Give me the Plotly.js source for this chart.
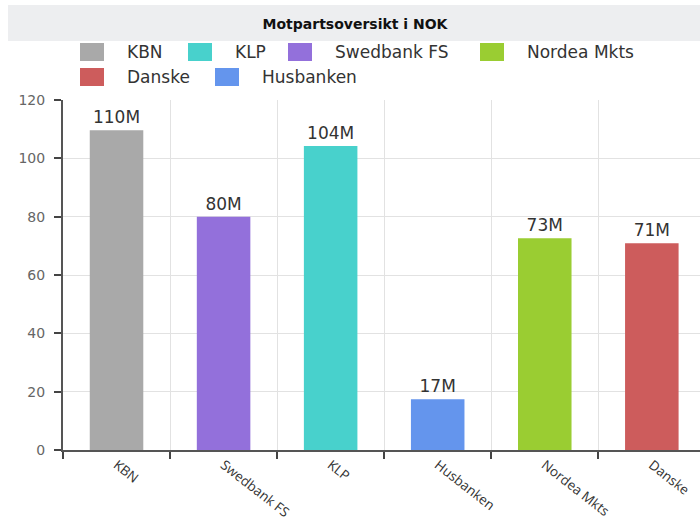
<!DOCTYPE html>
<html>
<head>
<meta charset="utf-8">
<script src="https://cdn.plot.ly/plotly-3.0.1.min.js"></script>
<style>html,body{margin:0;padding:0;background:#fff;}#chart{width:700px;height:522px;}</style>
</head>
<body>
<div id="chart"></div>
<script>
// ---- data ----
const banks = ['KBN', 'Swedbank FS', 'KLP', 'Husbanken', 'Nordea Mkts', 'Danske'];
const exposure = [109.6, 80, 104.2, 17.4, 72.6, 70.9];
const legendNames = ['KBN', 'KLP', 'Swedbank FS', 'Nordea Mkts', 'Danske', 'Husbanken'];
const yTicks = [0, 20, 40, 60, 80, 100, 120];

// ---- style ----
const colorOf = {
  'KBN': '#A9A9A9', 'KLP': '#48D1CC', 'Swedbank FS': '#9370DB',
  'Nordea Mkts': '#9ACD32', 'Danske': '#CD5C5C', 'Husbanken': '#6495ED'
};
const W = 700, H = 522;
const M = {l: 63, r: 0, t: 100, b: 72};
const PW = W - M.l - M.r, PH = H - M.t - M.b;
const px2x = p => (p - M.l) / PW;
const px2y = p => (H - M.b - p) / PH;

// legend layout (pixel positions of swatch left edges / row centres)
const legendSlots = [[80, 52], [188, 52], [288, 52], [480, 52], [80, 77], [215, 77]];

const shapes = [];
const annotations = [];
// title bar
shapes.push({type: 'rect', xref: 'paper', yref: 'paper', x0: px2x(8), x1: px2x(700),
  y0: px2y(41), y1: px2y(5), fillcolor: '#EDEEF0', line: {width: 0}, layer: 'below'});
legendNames.forEach((n, i) => {
  const [lx, ly] = legendSlots[i];
  shapes.push({type: 'rect', xref: 'paper', yref: 'paper',
    x0: px2x(lx), x1: px2x(lx + 24), y0: px2y(ly + 9), y1: px2y(ly - 9),
    fillcolor: colorOf[n], line: {width: 0}});
  annotations.push({xref: 'paper', yref: 'paper', x: px2x(lx + 45), y: px2y(ly),
    xanchor: 'left', yanchor: 'middle', showarrow: false, text: n,
    font: {family: 'DejaVu Sans', size: 17, color: '#333'}});
});

const trace = {
  type: 'bar', x: banks, y: exposure,
  marker: {color: banks.map(b => colorOf[b])},
  width: 0.5,
  texttemplate: '%{y:.0f}M', textposition: 'outside', cliponaxis: false,
  textfont: {family: 'DejaVu Sans', size: 17, color: '#333'},
  hoverinfo: 'skip', showlegend: false
};

const layout = {
  width: W, height: H, margin: M,
  paper_bgcolor: '#fff', plot_bgcolor: '#fff',
  title: {text: '<b>Motpartsoversikt i NOK</b>', x: 355 / W, xanchor: 'center',
    y: 1 - 24 / H, yanchor: 'middle', yref: 'container',
    font: {family: 'DejaVu Sans', size: 14, color: '#111'}},
  showlegend: false,
  xaxis: {type: 'category', categoryorder: 'array', categoryarray: banks,
    range: [-0.5, 5.45], tickson: 'boundaries', ticks: 'outside', ticklen: 7,
    tickwidth: 2, tickcolor: '#444', showline: true, linecolor: '#555', linewidth: 2,
    showgrid: true, gridcolor: '#e2e2e2', gridwidth: 1, tickangle: 38,
    tickfont: {family: 'Open Sans', size: 13.5, color: '#333'}, fixedrange: true},
  yaxis: {range: [0, 120], tickvals: yTicks, ticks: 'outside', ticklen: 7, tickwidth: 2,
    tickcolor: '#444', showline: true, linecolor: '#555', linewidth: 2,
    showgrid: true, gridcolor: '#e2e2e2', zeroline: false, ticklabelstandoff: 6,
    tickfont: {family: 'DejaVu Sans', size: 14, color: '#666'}, fixedrange: true},
  shapes: shapes, annotations: annotations, bargap: 0.5
};

Plotly.newPlot('chart', [trace], layout, {displayModeBar: false, staticPlot: true});
</script>
</body>
</html>
